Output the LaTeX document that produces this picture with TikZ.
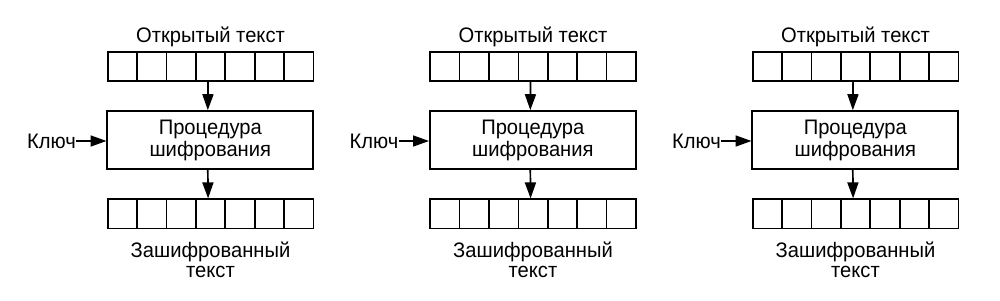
\documentclass[tikz,border=0pt]{standalone}
\usepackage{fontspec}
\setmainfont{Liberation Sans}[FakeStretch=0.96]
\usetikzlibrary{arrows.meta}
\tikzset{
  cell/.style={draw, line width=1.7pt, minimum width=29.4pt, minimum height=29.4pt, inner sep=0pt, outer sep=0pt},
  procbox/.style={draw, line width=1.7pt, minimum width=206pt, minimum height=58pt, inner sep=0pt, outer sep=0pt, align=center, font=\fontsize{21}{22}\selectfont},
  lbl/.style={font=\fontsize{21}{20}\selectfont, inner sep=0pt, align=center},
  arr/.style={line width=1.7pt, -{Triangle[length=16pt,width=11pt]}, shorten >=0.8pt}
}
\begin{document}
\begin{tikzpicture}[x=1pt,y=-1pt]
\useasboundingbox (0,0) rectangle (1000,300);
\foreach \i/\dx in {1/0,2/322.5,3/645}{
  \foreach \k in {1,...,7}{
    \node[cell] (t\i-\k) at ({107.7+\dx+(\k-0.5)*29.4},66.4) {};
    \node[cell] (b\i-\k) at ({107.7+\dx+(\k-0.5)*29.4},213.9) {};
  }
  \node[procbox] (proc\i) at ({210.3+\dx},140) {Процедура\\шифрования};
  \node[lbl, anchor=base] (open\i) at ({210.5+\dx},42.7) {Открытый текст};
  \node[lbl, anchor=base] (ciph\i) at ({210.5+\dx},277) {Зашифрованный\\текст};
  \node[lbl, anchor=east] (key\i) at ({76+\dx},141) {Ключ};
  \draw[arr] ([xshift=-2.5pt]t\i-4.south) -- ([xshift=-2.5pt]proc\i.north);
  \draw[arr] ([xshift=-2.5pt]proc\i.south) -- ([xshift=-2.5pt]b\i-4.north);
  \draw[arr] (key\i.east) -- (key\i.east -| proc\i.west);
}
\end{tikzpicture}
\end{document}
